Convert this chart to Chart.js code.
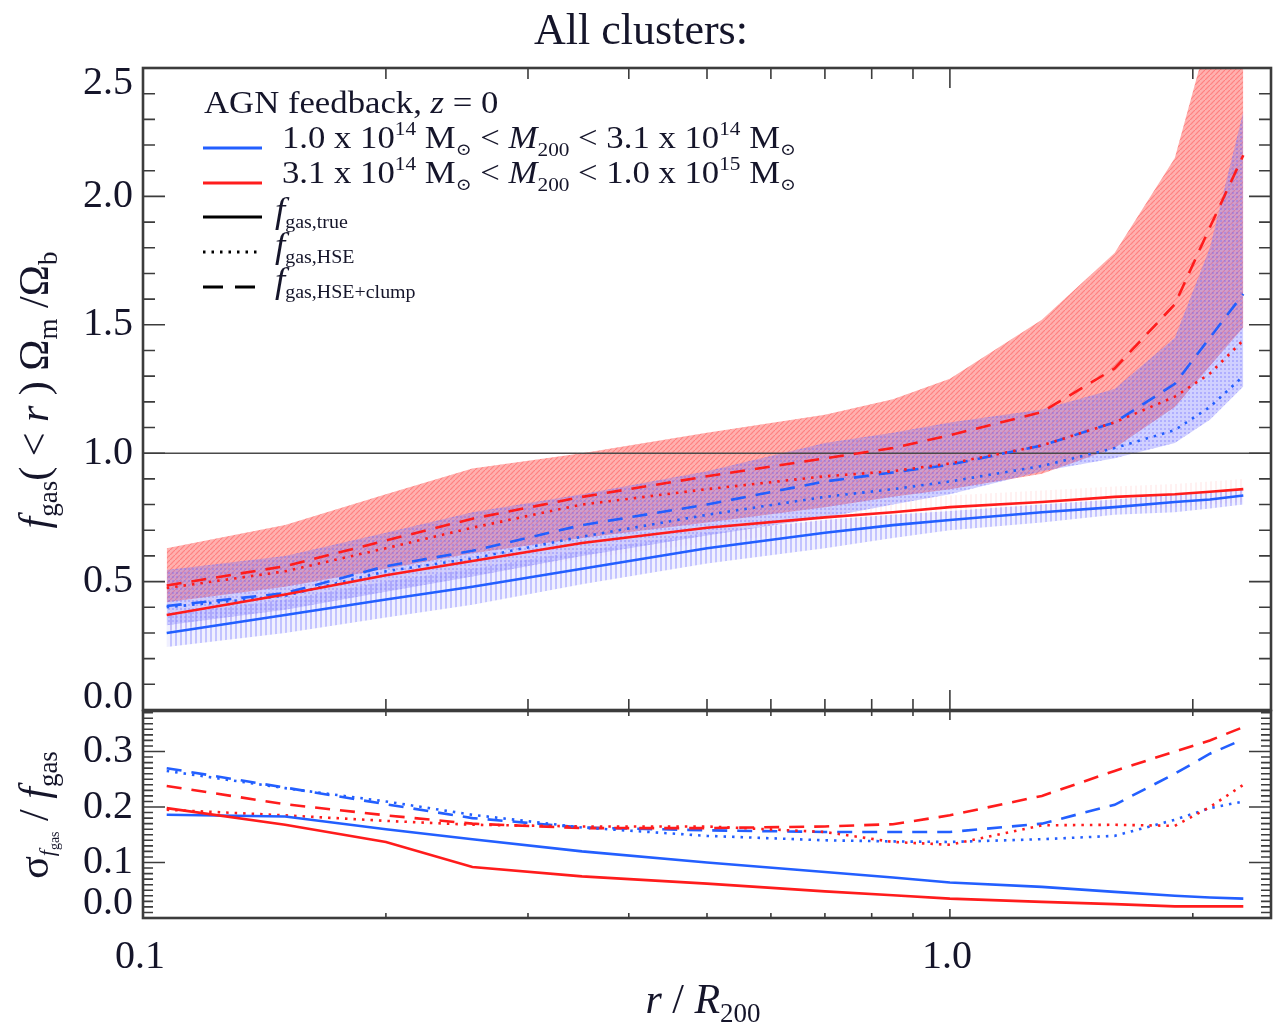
<!DOCTYPE html>
<html>
<head>
<meta charset="utf-8">
<script src="https://cdn.jsdelivr.net/npm/chart.js@4/dist/chart.umd.min.js"></script>
<style>
  html, body { margin: 0; padding: 0; background: #fff; }
  #wrap { position: relative; width: 1276px; height: 1028px; }
  canvas { position: absolute; left: 0; top: 0; }
</style>
</head>
<body>
<div id="wrap">
  <canvas id="fgasPanel" width="1276" height="1028"></canvas>
  <canvas id="scatterPanel" width="1276" height="1028"></canvas>
</div>
<script>
// ---- radial bins, r / R200 ----
const radius = [0.107, 0.15, 0.2, 0.256, 0.35, 0.5, 0.7, 0.85, 1.0, 1.3, 1.6, 1.9, 2.1, 2.31];

// ---- f_gas(<r) Omega_m / Omega_b, median profiles ----
// low-mass bin (1.0e14 - 3.1e14 Msun)
const lowTrue  = [0.30, 0.37, 0.43, 0.48, 0.55, 0.63, 0.69, 0.72, 0.74, 0.77, 0.79, 0.81, 0.82, 0.835];
const lowHse   = [0.40, 0.445, 0.54, 0.59, 0.675, 0.76, 0.83, 0.86, 0.89, 0.95, 1.02, 1.09, 1.18, 1.30];
const lowClump = [0.405, 0.455, 0.56, 0.62, 0.72, 0.80, 0.89, 0.925, 0.955, 1.03, 1.12, 1.27, 1.45, 1.62];
// high-mass bin (3.1e14 - 1.0e15 Msun)
const highTrue  = [0.37, 0.45, 0.525, 0.58, 0.65, 0.71, 0.75, 0.77, 0.79, 0.81, 0.83, 0.84, 0.85, 0.86];
const highHse   = [0.475, 0.54, 0.63, 0.71, 0.80, 0.86, 0.91, 0.93, 0.96, 1.03, 1.12, 1.22, 1.31, 1.44];
const highClump = [0.485, 0.56, 0.66, 0.745, 0.83, 0.91, 0.98, 1.02, 1.07, 1.16, 1.33, 1.58, 1.88, 2.16];

// ---- scatter bands ----
const highBandUpper = [0.63, 0.72, 0.84, 0.94, 1.00, 1.08, 1.15, 1.21, 1.29, 1.52, 1.78, 2.15, 2.65, 3.10];
const highBandLower = [0.42, 0.48, 0.55, 0.61, 0.67, 0.73, 0.79, 0.83, 0.86, 0.92, 1.02, 1.18, 1.34, 1.49];
const lowBandUpper  = [0.545, 0.60, 0.69, 0.77, 0.84, 0.93, 1.04, 1.08, 1.12, 1.17, 1.25, 1.45, 1.80, 2.33];
const lowBandLower  = [0.33, 0.39, 0.46, 0.52, 0.60, 0.68, 0.75, 0.80, 0.84, 0.93, 0.98, 1.04, 1.13, 1.26];
const lowTrueUpper  = [0.37, 0.43, 0.50, 0.55, 0.62, 0.69, 0.74, 0.76, 0.775, 0.80, 0.82, 0.84, 0.85, 0.86];
const lowTrueLower  = [0.245, 0.30, 0.36, 0.41, 0.49, 0.57, 0.63, 0.67, 0.70, 0.73, 0.76, 0.77, 0.785, 0.80];
const highTrueUpper = [0.42, 0.50, 0.575, 0.63, 0.70, 0.76, 0.80, 0.82, 0.835, 0.855, 0.87, 0.88, 0.89, 0.90];
const highTrueLower = [0.31, 0.39, 0.46, 0.52, 0.59, 0.65, 0.70, 0.72, 0.74, 0.76, 0.78, 0.79, 0.80, 0.81];

// ---- fractional scatter sigma / f_gas ----
const sigLowTrue   = [0.186, 0.183, 0.16, 0.142, 0.12, 0.10, 0.083, 0.073, 0.064, 0.056, 0.047, 0.040, 0.037, 0.035];
const sigHighTrue  = [0.198, 0.168, 0.137, 0.092, 0.075, 0.062, 0.048, 0.041, 0.035, 0.029, 0.025, 0.021, 0.021, 0.021];
const sigLowHse    = [0.265, 0.234, 0.21, 0.186, 0.163, 0.148, 0.14, 0.138, 0.137, 0.142, 0.148, 0.177, 0.198, 0.21];
const sigLowClump  = [0.27, 0.235, 0.205, 0.18, 0.163, 0.158, 0.155, 0.155, 0.155, 0.17, 0.204, 0.26, 0.296, 0.322];
const sigHighHse   = [0.195, 0.185, 0.175, 0.168, 0.165, 0.165, 0.155, 0.137, 0.132, 0.167, 0.168, 0.166, 0.20, 0.24];
const sigHighClump = [0.238, 0.205, 0.185, 0.17, 0.162, 0.162, 0.165, 0.169, 0.185, 0.22, 0.265, 0.30, 0.32, 0.344];

// ---- axes ----
const xRange = [0.1, 2.5];
const fgasRange = [0, 2.5];
const sigmaRange = [0, 0.373];
const unityLevel = 1.0;
const xTickValues = [0.1, 1.0];
const xTickLabels = ['0.1', '1.0'];
const xMinorValues = [0.2, 0.3, 0.4, 0.5, 0.6, 0.7, 0.8, 0.9, 2.0];
const fgasTickValues = [0, 0.5, 1.0, 1.5, 2.0, 2.5];
const fgasTickLabels = ['0.0', '0.5', '1.0', '1.5', '2.0', '2.5'];
const sigmaTickValues = [0, 0.1, 0.2, 0.3];
const sigmaTickLabels = ['0.0', '0.1', '0.2', '0.3'];

// ---- style ----
const BLUE = 'rgb(35,95,255)';
const RED = 'rgb(255,28,28)';
const INK = '#15152a';
const FRAME = '#3c3c3c';
const SERIF = '"Liberation Serif", "Times New Roman", "DejaVu Serif", serif';
const DOTS = [2.5, 6];
const DASHES = [15, 10];

function makePattern(w, h, paint) {
  const c = document.createElement('canvas');
  c.width = w; c.height = h;
  const g = c.getContext('2d');
  paint(g, w, h);
  return g.createPattern(c, 'repeat');
}
const redHatch = makePattern(5, 5, (g, w, h) => {
  g.fillStyle = 'rgba(255,100,95,0.50)'; g.fillRect(0, 0, w, h);
  g.strokeStyle = 'rgba(255,70,70,0.45)'; g.lineWidth = 1.2;
  g.beginPath(); g.moveTo(-1, h + 1); g.lineTo(w + 1, -1); g.stroke();
});
const blueCross = makePattern(4, 4, (g, w, h) => {
  g.fillStyle = 'rgba(125,125,255,0.36)'; g.fillRect(0, 0, w, h);
  g.fillStyle = 'rgba(100,100,255,0.30)'; g.fillRect(0, 0, 2, 2);
});
const blueVertical = makePattern(5, 4, (g, w, h) => {
  g.fillStyle = 'rgba(170,170,255,0.18)'; g.fillRect(0, 0, w, h);
  g.fillStyle = 'rgba(130,130,255,0.40)'; g.fillRect(0, 0, 2, h);
});
const redVertical = makePattern(5, 4, (g, w, h) => {
  g.fillStyle = 'rgba(255,170,170,0.16)'; g.fillRect(0, 0, 2, h);
});

function pts(ys) { return radius.map((r, i) => ({ x: r, y: ys[i] })); }
function lineSet(label, ys, color, dash, order) {
  return { label, data: pts(ys), borderColor: color, borderWidth: 2.6, borderDash: dash,
           pointRadius: 0, fill: false, tension: 0, order };
}
function bandSets(label, upper, lower, pattern, order) {
  return [
    { label: label + ' upper', data: pts(upper), borderColor: 'rgba(0,0,0,0)', borderWidth: 0,
      pointRadius: 0, fill: '+1', backgroundColor: pattern, tension: 0, order },
    { label: label + ' lower', data: pts(lower), borderColor: 'rgba(0,0,0,0)', borderWidth: 0,
      pointRadius: 0, fill: false, tension: 0, order }
  ];
}

// ---- rich text helpers ----
function fontOf(s) { return (s.it ? 'italic ' : '') + s.size + 'px ' + SERIF; }
function richWidth(ctx, segs) {
  let w = 0;
  for (const s of segs) { ctx.font = fontOf(s); w += ctx.measureText(s.t).width + (s.kern || 0); }
  return w;
}
function drawRich(ctx, x, y, segs, align) {
  const w = richWidth(ctx, segs);
  let cx = align === 'center' ? x - w / 2 : (align === 'right' ? x - w : x);
  for (const s of segs) {
    ctx.font = fontOf(s);
    ctx.fillText(s.t, cx, y + (s.dy || 0));
    cx += ctx.measureText(s.t).width + (s.kern || 0);
  }
}
// legend lettering is a touch wider than the plain serif face
function drawWide(ctx, x, y, segs, stretch) {
  ctx.save();
  ctx.translate(x, y);
  ctx.scale(stretch, 1);
  drawRich(ctx, 0, 0, segs, 'left');
  ctx.restore();
}

// ---- frame, ticks and tick labels for one panel ----
function drawPanelAxes(chart, spec) {
  const { ctx, chartArea: a } = chart;
  const xs = chart.scales.x, ys = chart.scales.y;
  ctx.save();
  ctx.strokeStyle = FRAME;
  ctx.lineWidth = 1.6;
  ctx.beginPath();
  const xTick = (v, len) => {
    const px = xs.getPixelForValue(v);
    if (px <= a.left + 1 || px >= a.right - 1) return;
    ctx.moveTo(px, a.top); ctx.lineTo(px, a.top + len);
    ctx.moveTo(px, a.bottom); ctx.lineTo(px, a.bottom - len);
  };
  const yTick = (v, len) => {
    const py = ys.getPixelForValue(v);
    if (py <= a.top + 1 || py >= a.bottom - 1) return;
    ctx.moveTo(a.left, py); ctx.lineTo(a.left + len, py);
    ctx.moveTo(a.right, py); ctx.lineTo(a.right - len, py);
  };
  xTickValues.forEach(v => xTick(v, spec.xMajor));
  xMinorValues.forEach(v => xTick(v, spec.xMinor));
  spec.yValues.forEach(v => yTick(v, spec.yMajor));
  for (let k = 1; k * spec.yMinorStep < spec.yMax; k++) {
    const v = k * spec.yMinorStep;
    if (spec.yValues.some(m => Math.abs(m - v) < 1e-6)) continue;
    yTick(v, spec.yMinor);
  }
  ctx.stroke();
  ctx.lineWidth = 2.6;
  ctx.strokeRect(a.left, a.top, a.right - a.left, a.bottom - a.top);

  ctx.fillStyle = INK;
  ctx.font = '40px ' + SERIF;
  ctx.textAlign = 'right';
  ctx.textBaseline = 'middle';
  spec.yValues.forEach((v, i) => {
    let py = ys.getPixelForValue(v);
    py = Math.max(a.top + spec.labelInsetTop, Math.min(a.bottom - spec.labelInsetBottom, py));
    ctx.fillText(spec.yLabels[i], a.left - 10, py);
  });
  ctx.restore();
}

const commonScales = (yr) => ({
  x: { type: 'logarithmic', min: xRange[0], max: xRange[1], display: false },
  y: { type: 'linear', min: yr[0], max: yr[1], display: false }
});
const commonOptions = {
  responsive: false, animation: false, devicePixelRatio: 1,
  events: [],
  plugins: { legend: { display: false }, tooltip: { enabled: false }, title: { display: false },
             filler: { drawTime: 'beforeDatasetsDraw' } }
};

// ================= upper panel: gas fraction =================
const fgasDecor = {
  id: 'fgasDecor',
  afterDraw(chart) {
    drawPanelAxes(chart, { xMajor: 20, xMinor: 11, yValues: fgasTickValues, yLabels: fgasTickLabels,
      yMajor: 22, yMinor: 12, yMinorStep: 0.1, yMax: fgasRange[1], labelInsetTop: 15, labelInsetBottom: 13 });
    const ctx = chart.ctx;
    ctx.save();
    ctx.fillStyle = INK;
    ctx.textAlign = 'left';
    ctx.textBaseline = 'alphabetic';

    // title
    drawRich(ctx, 641, 44, [{ t: 'All clusters:', size: 44 }], 'center');

    // legend
    const lx0 = 203, lx1 = 262, tx = 282, stretch = 1.12;
    const sample = (y, color, dash) => {
      ctx.save(); ctx.strokeStyle = color; ctx.lineWidth = 2.8; ctx.setLineDash(dash);
      ctx.beginPath(); ctx.moveTo(lx0, y); ctx.lineTo(lx1, y); ctx.stroke(); ctx.restore();
    };
    drawWide(ctx, lx0 + 1, 113, [{ t: 'AGN feedback, ', size: 31 }, { t: 'z', size: 31, it: 1 }, { t: ' = 0', size: 31 }], stretch);
    const massRange = (a, ea, b, eb) => [
      { t: a + ' x 10', size: 31 }, { t: ea, size: 19, dy: -13 }, { t: ' M', size: 31 }, { t: '\u2299', size: 17, dy: 7 },
      { t: ' < ', size: 31 }, { t: 'M', size: 31, it: 1 }, { t: '200', size: 19, dy: 8 },
      { t: ' < ' + b + ' x 10', size: 31 }, { t: eb, size: 19, dy: -13 }, { t: ' M', size: 31 }, { t: '\u2299', size: 17, dy: 7 }
    ];
    sample(148, BLUE, []);
    drawWide(ctx, tx, 148, massRange('1.0', '14', '3.1', '14'), stretch);
    sample(183, RED, []);
    drawWide(ctx, tx, 183, massRange('3.1', '14', '1.0', '15'), stretch);
    const fLabel = (y, sub) => drawWide(ctx, tx - 7, y, [{ t: 'f', size: 35, it: 1 }, { t: sub, size: 19, dy: 6 }], 1.05);
    sample(217, '#000', []);
    fLabel(222, 'gas,true');
    sample(252, '#000', DOTS);
    fLabel(257, 'gas,HSE');
    sample(287, '#000', [20, 12]);
    fLabel(292, 'gas,HSE+clump');

    // vertical axis title
    ctx.translate(48, 390);
    ctx.rotate(-Math.PI / 2);
    drawRich(ctx, 0, 0, [
      { t: 'f', size: 42, it: 1 }, { t: 'gas', size: 27, dy: 9 }, { t: '( < ', size: 42 }, { t: 'r', size: 42, it: 1 },
      { t: ' ) \u03A9', size: 42 }, { t: 'm', size: 27, dy: 9 }, { t: ' /\u03A9', size: 42 }, { t: 'b', size: 27, dy: 9 }
    ], 'center');
    ctx.restore();
  }
};

new Chart(document.getElementById('fgasPanel'), {
  type: 'line',
  data: {
    datasets: [
      lineSet('low f_gas,true', lowTrue, BLUE, [], 1),
      lineSet('high f_gas,true', highTrue, RED, [], 0),
      lineSet('low f_gas,HSE', lowHse, BLUE, DOTS, 3),
      lineSet('high f_gas,HSE', highHse, RED, DOTS, 2),
      lineSet('low f_gas,HSE+clump', lowClump, BLUE, DASHES, 5),
      lineSet('high f_gas,HSE+clump', highClump, RED, DASHES, 4),
      { label: 'unity', data: [{ x: xRange[0], y: unityLevel }, { x: xRange[1], y: unityLevel }],
        borderColor: '#4a4a4a', borderWidth: 1.5, pointRadius: 0, fill: false, order: 8 },
      ...bandSets('high scatter', highBandUpper, highBandLower, redHatch, 30),
      ...bandSets('high true scatter', highTrueUpper, highTrueLower, redVertical, 25),
      ...bandSets('low scatter', lowBandUpper, lowBandLower, blueCross, 20),
      ...bandSets('low true scatter', lowTrueUpper, lowTrueLower, blueVertical, 15)
    ]
  },
  options: Object.assign({}, commonOptions, {
    layout: { padding: { left: 143, right: 5, top: 68, bottom: 318 } },
    scales: commonScales(fgasRange)
  }),
  plugins: [fgasDecor]
});

// ================= lower panel: fractional scatter =================
const sigmaDecor = {
  id: 'sigmaDecor',
  afterDraw(chart) {
    drawPanelAxes(chart, { xMajor: 9, xMinor: 5, yValues: sigmaTickValues, yLabels: sigmaTickLabels,
      yMajor: 22, yMinor: 10, yMinorStep: 0.01, yMax: sigmaRange[1], labelInsetTop: 12, labelInsetBottom: 15 });
    const ctx = chart.ctx;
    const xs = chart.scales.x;
    ctx.save();
    ctx.fillStyle = INK;
    ctx.textBaseline = 'alphabetic';
    ctx.textAlign = 'left';
    xTickValues.forEach((v, i) => {
      drawRich(ctx, xs.getPixelForValue(v) - 3, 968, [{ t: xTickLabels[i], size: 40 }], 'center');
    });
    drawRich(ctx, 703, 1013, [
      { t: 'r', size: 42, it: 1 }, { t: ' / ', size: 42 }, { t: 'R', size: 42, it: 1 }, { t: '200', size: 27, dy: 9 }
    ], 'center');
    ctx.translate(48, 815);
    ctx.rotate(-Math.PI / 2);
    drawRich(ctx, 0, 0, [
      { t: '\u03C3', size: 42 }, { t: 'f', size: 22, it: 1, dy: 6 }, { t: 'gas', size: 14, dy: 11 },
      { t: ' / ', size: 42 }, { t: 'f', size: 42, it: 1 }, { t: 'gas', size: 27, dy: 9 }
    ], 'center');
    ctx.restore();
  }
};

new Chart(document.getElementById('scatterPanel'), {
  type: 'line',
  data: {
    datasets: [
      lineSet('low f_gas,true', sigLowTrue, BLUE, [], 1),
      lineSet('high f_gas,true', sigHighTrue, RED, [], 0),
      lineSet('low f_gas,HSE', sigLowHse, BLUE, DOTS, 3),
      lineSet('high f_gas,HSE', sigHighHse, RED, DOTS, 2),
      lineSet('low f_gas,HSE+clump', sigLowClump, BLUE, DASHES, 5),
      lineSet('high f_gas,HSE+clump', sigHighClump, RED, DASHES, 4)
    ]
  },
  options: Object.assign({}, commonOptions, {
    layout: { padding: { left: 143, right: 5, top: 711, bottom: 110 } },
    scales: commonScales(sigmaRange)
  }),
  plugins: [sigmaDecor]
});
</script>
</body>
</html>
